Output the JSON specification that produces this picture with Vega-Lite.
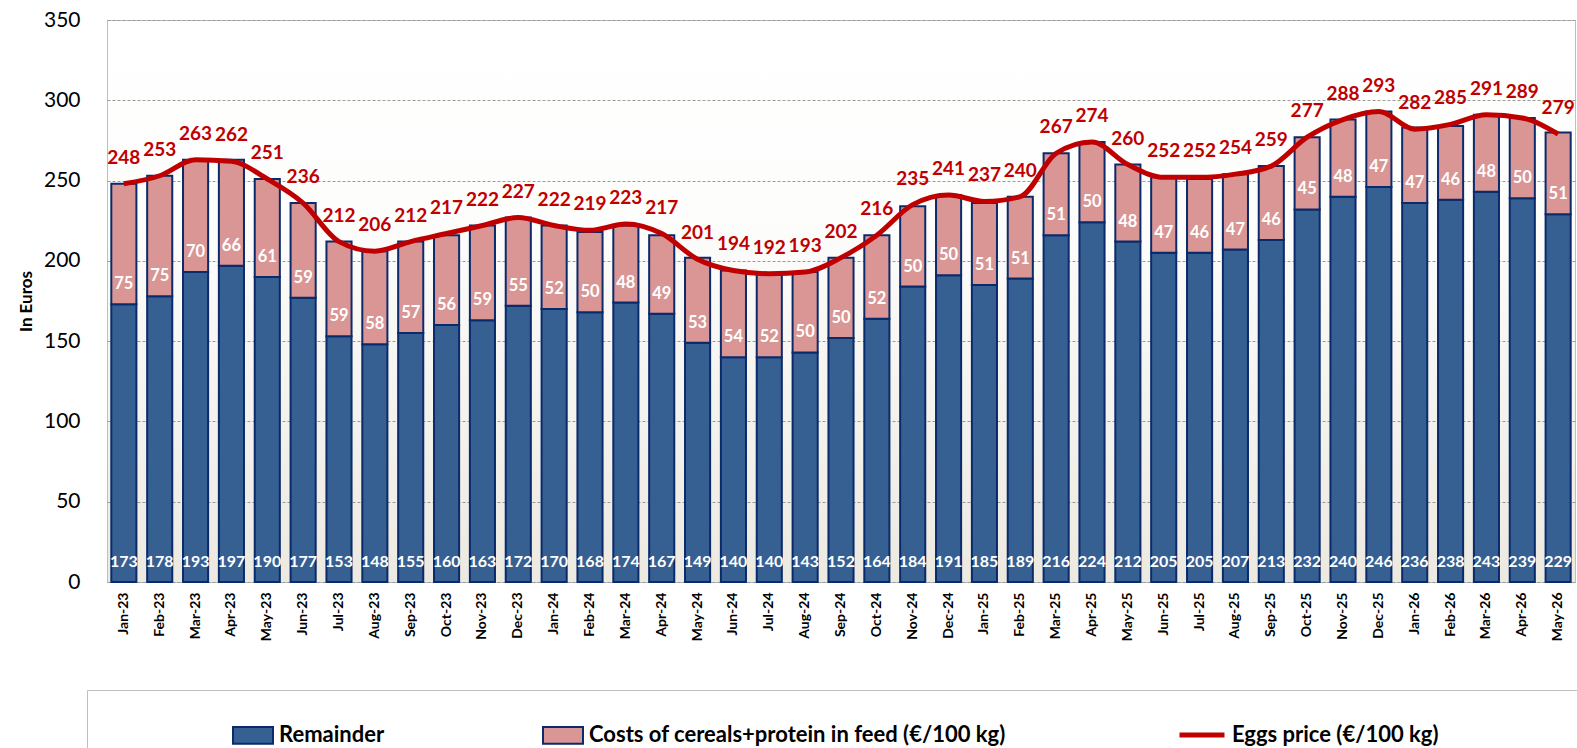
{
  "$schema": "https://vega.github.io/schema/vega-lite/v6.json",
  "autosize": {"type": "none"},
  "width": 1468,
  "height": 562,
  "padding": {"left": 107, "top": 20, "right": 2, "bottom": 166},
  "background": "white",
  "data": {"values": [
    {"month": "Jan-23", "remainder": 173, "costs": 75, "eggs": 248},
    {"month": "Feb-23", "remainder": 178, "costs": 75, "eggs": 253},
    {"month": "Mar-23", "remainder": 193, "costs": 70, "eggs": 263},
    {"month": "Apr-23", "remainder": 197, "costs": 66, "eggs": 262},
    {"month": "May-23", "remainder": 190, "costs": 61, "eggs": 251},
    {"month": "Jun-23", "remainder": 177, "costs": 59, "eggs": 236},
    {"month": "Jul-23", "remainder": 153, "costs": 59, "eggs": 212},
    {"month": "Aug-23", "remainder": 148, "costs": 58, "eggs": 206},
    {"month": "Sep-23", "remainder": 155, "costs": 57, "eggs": 212},
    {"month": "Oct-23", "remainder": 160, "costs": 56, "eggs": 217},
    {"month": "Nov-23", "remainder": 163, "costs": 59, "eggs": 222},
    {"month": "Dec-23", "remainder": 172, "costs": 55, "eggs": 227},
    {"month": "Jan-24", "remainder": 170, "costs": 52, "eggs": 222},
    {"month": "Feb-24", "remainder": 168, "costs": 50, "eggs": 219},
    {"month": "Mar-24", "remainder": 174, "costs": 48, "eggs": 223},
    {"month": "Apr-24", "remainder": 167, "costs": 49, "eggs": 217},
    {"month": "May-24", "remainder": 149, "costs": 53, "eggs": 201},
    {"month": "Jun-24", "remainder": 140, "costs": 54, "eggs": 194},
    {"month": "Jul-24", "remainder": 140, "costs": 52, "eggs": 192},
    {"month": "Aug-24", "remainder": 143, "costs": 50, "eggs": 193},
    {"month": "Sep-24", "remainder": 152, "costs": 50, "eggs": 202},
    {"month": "Oct-24", "remainder": 164, "costs": 52, "eggs": 216},
    {"month": "Nov-24", "remainder": 184, "costs": 50, "eggs": 235},
    {"month": "Dec-24", "remainder": 191, "costs": 50, "eggs": 241},
    {"month": "Jan-25", "remainder": 185, "costs": 51, "eggs": 237},
    {"month": "Feb-25", "remainder": 189, "costs": 51, "eggs": 240},
    {"month": "Mar-25", "remainder": 216, "costs": 51, "eggs": 267},
    {"month": "Apr-25", "remainder": 224, "costs": 50, "eggs": 274},
    {"month": "May-25", "remainder": 212, "costs": 48, "eggs": 260},
    {"month": "Jun-25", "remainder": 205, "costs": 47, "eggs": 252},
    {"month": "Jul-25", "remainder": 205, "costs": 46, "eggs": 252},
    {"month": "Aug-25", "remainder": 207, "costs": 47, "eggs": 254},
    {"month": "Sep-25", "remainder": 213, "costs": 46, "eggs": 259},
    {"month": "Oct-25", "remainder": 232, "costs": 45, "eggs": 277},
    {"month": "Nov-25", "remainder": 240, "costs": 48, "eggs": 288},
    {"month": "Dec-25", "remainder": 246, "costs": 47, "eggs": 293},
    {"month": "Jan-26", "remainder": 236, "costs": 47, "eggs": 282},
    {"month": "Feb-26", "remainder": 238, "costs": 46, "eggs": 285},
    {"month": "Mar-26", "remainder": 243, "costs": 48, "eggs": 291},
    {"month": "Apr-26", "remainder": 239, "costs": 50, "eggs": 289},
    {"month": "May-26", "remainder": 229, "costs": 51, "eggs": 279}
  ]},
  "encoding": {
    "x": {
      "field": "month", "type": "ordinal", "sort": null, "title": null,
      "scale": {"paddingInner": 0.3, "paddingOuter": 0.12},
      "axis": {"labelAngle": -90, "labelFont": "Lato", "labelFontSize": 14, "labelFontWeight": "bold", "labelColor": "black", "labelPadding": 10, "ticks": false, "domain": false}
    }
  },
  "layer": [
    {
      "transform": [{"fold": ["remainder", "costs"], "as": ["series", "value"]}],
      "mark": {"type": "bar", "stroke": "#0b2a6b", "strokeWidth": 2},
      "encoding": {
        "y": {"field": "value", "type": "quantitative", "stack": "zero", "title": "In Euros",
              "scale": {"domain": [0, 350], "nice": false},
              "axis": {"values": [0, 50, 100, 150, 200, 250, 300, 350]}},
        "order": {"field": "series", "sort": "descending"},
        "color": {"field": "series", "type": "nominal",
          "scale": {"domain": ["remainder", "costs"], "range": ["#376092", "#d99694"]},
          "legend": {
            "orient": "none", "legendX": 125, "legendY": 694, "direction": "horizontal",
            "title": null, "padding": 0, "strokeColor": null, "fillColor": null,
            "columnPadding": 154, "labelOffset": 5,
            "labelFont": "Lato", "labelFontSize": 22, "labelFontWeight": "bold", "labelColor": "black", "labelLimit": 1000,
            "symbolType": "M-1,-0.42H1V0.42H-1Z", "symbolSize": 1600,
            "symbolStrokeColor": "#0b2a6b", "symbolStrokeWidth": 2, "symbolOpacity": 1,
            "labelExpr": "datum.value === 'remainder' ? 'Remainder' : 'Costs of cereals+protein in feed (€/100 kg)'"
          }
        }
      }
    },
    {
      "mark": {"type": "line", "strokeWidth": 5, "interpolate": "monotone"},
      "encoding": {
        "y": {"field": "eggs", "type": "quantitative", "title": "In Euros", "axis": {"values": [0, 50, 100, 150, 200, 250, 300, 350]}},
        "stroke": {"datum": "eggs",
          "scale": {"domain": ["eggs"], "range": ["#c00000"]},
          "legend": {
            "orient": "none", "legendX": -20, "legendY": 670, "direction": "horizontal",
            "title": "\u00a0", "titleOrient": "left", "titlePadding": 1070, "titleFontSize": 10,
            "padding": 20, "strokeColor": "#bfbfbf", "fillColor": null,
            "labelOffset": 5,
            "labelFont": "Lato", "labelFontSize": 22, "labelFontWeight": "bold", "labelColor": "black", "labelLimit": 2000,
            "symbolType": "stroke", "symbolSize": 2025, "symbolStrokeWidth": 5, "symbolOpacity": 1,
            "labelExpr": "'Eggs price (€/100 kg)\u00a0\u00a0\u00a0\u00a0\u00a0\u00a0\u00a0\u00a0\u00a0\u00a0\u00a0\u00a0\u00a0\u00a0\u00a0\u00a0\u00a0\u00a0\u00a0\u00a0\u00a0\u00a0\u200b'"
          }
        }
      }
    },
    {
      "mark": {"type": "text", "font": "Lato", "fontSize": 16, "fontWeight": "bold", "color": "white", "baseline": "middle", "dy": -20},
      "encoding": {
        "y": {"datum": 0, "type": "quantitative", "title": "In Euros", "axis": {"values": [0, 50, 100, 150, 200, 250, 300, 350]}},
        "text": {"field": "remainder", "type": "quantitative"}
      }
    },
    {
      "mark": {"type": "text", "font": "Lato", "fontSize": 16.5, "fontWeight": "bold", "color": "white", "baseline": "middle", "dy": -20},
      "encoding": {
        "y": {"field": "remainder", "type": "quantitative", "title": "In Euros", "axis": {"values": [0, 50, 100, 150, 200, 250, 300, 350]}},
        "text": {"field": "costs", "type": "quantitative"}
      }
    },
    {
      "mark": {"type": "text", "font": "Lato", "fontSize": 19, "fontWeight": "bold", "color": "#c00000", "baseline": "middle", "dy": -26},
      "encoding": {
        "y": {"field": "eggs", "type": "quantitative", "title": "In Euros", "axis": {"values": [0, 50, 100, 150, 200, 250, 300, 350]}},
        "text": {"field": "eggs", "type": "quantitative"}
      }
    }
  ],
  "config": {
    "view": {
      "stroke": "#bfbfbf", "strokeWidth": 1,
      "fill": {"gradient": "linear", "x1": 0, "y1": 0, "x2": 0, "y2": 1,
               "stops": [{"offset": 0, "color": "#ffffff"}, {"offset": 0.35, "color": "#fdfdfc"}, {"offset": 1, "color": "#ece9e0"}]}
    },
    "axisY": {
      "labelFont": "Lato", "labelFontSize": 21, "labelColor": "black", "labelPadding": 27,
      "ticks": false, "domain": false,
      "grid": true, "gridColor": "#9a9a9a", "gridDash": [3, 2], "gridWidth": 1,
      "titleFont": "Lato", "titleFontSize": 17, "titleFontWeight": "bold", "titleColor": "black", "titlePadding": 8
    }
  }
}
